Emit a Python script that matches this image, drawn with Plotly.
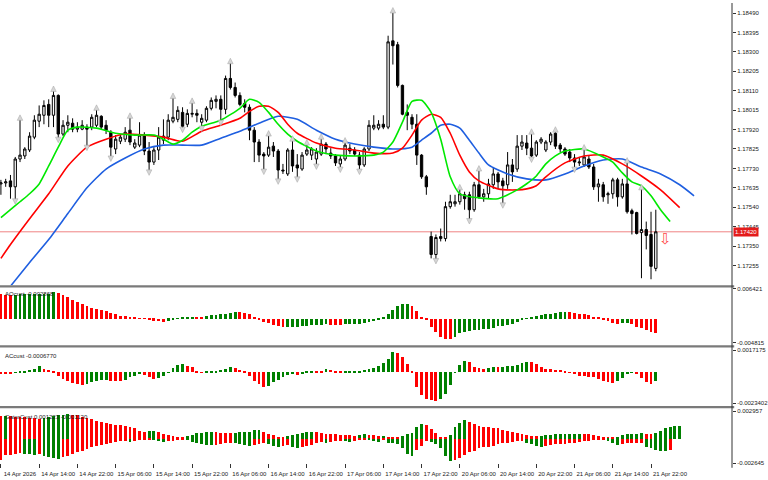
import plotly.graph_objects as go

# ---------------- data ----------------
bar_index = list(range(138))

open_ = [1.17654,1.17659,1.17669,1.17640,1.17776,1.17791,1.17820,1.17883,1.17961,1.17990,
1.18043,1.17990,1.18087,1.17898,1.17941,1.17951,1.17922,1.17922,1.17932,1.17932,
1.17941,1.17985,1.17941,1.17907,1.17825,1.17863,1.17873,1.17917,1.17834,1.17844,
1.17893,1.17815,1.17761,1.17820,1.17868,1.17883,1.17961,1.17970,1.18004,1.17946,
1.17995,1.17999,1.17956,1.17966,1.18024,1.18058,1.18068,1.18019,1.18170,1.18126,
1.18087,1.18048,1.18029,1.17917,1.17859,1.17800,1.17795,1.17839,1.17815,1.17722,
1.17703,1.17820,1.17747,1.17727,1.17800,1.17795,1.17776,1.17800,1.17849,1.17805,
1.17791,1.17752,1.17776,1.17829,1.17820,1.17795,1.17747,1.17825,1.17927,1.17927,
1.17946,1.17932,1.18354,1.18335,1.18136,1.18004,1.17980,1.17946,1.17795,1.17689,
1.17397,1.17309,1.17387,1.17387,1.17543,1.17557,1.17567,1.17601,1.17601,1.17528,
1.17650,1.17591,1.17606,1.17650,1.17703,1.17669,1.17650,1.17747,1.17727,1.17839,
1.17854,1.17829,1.17795,1.17859,1.17820,1.17859,1.17902,1.17844,1.17825,1.17810,
1.17781,1.17757,1.17747,1.17776,1.17737,1.17640,1.17650,1.17601,1.17606,1.17674,
1.17591,1.17654,1.17523,1.17514,1.17416,1.17431,1.17407,1.17241]

high_ = [1.17674,1.17679,1.17698,1.17786,1.17970,1.17834,1.17907,1.17990,1.18038,1.18063,
1.18068,1.18111,1.18092,1.17966,1.17990,1.17975,1.17956,1.17966,1.17946,1.17995,
1.18019,1.17990,1.17966,1.17917,1.17893,1.17898,1.17932,1.17980,1.17873,1.17956,
1.17907,1.17859,1.17834,1.17932,1.17970,1.17995,1.18077,1.18034,1.18029,1.18019,
1.18053,1.18019,1.17995,1.18034,1.18077,1.18087,1.18087,1.18184,1.18247,1.18150,
1.18102,1.18068,1.18043,1.17932,1.17873,1.17810,1.17893,1.17859,1.17825,1.17752,
1.17829,1.17868,1.17800,1.17810,1.17849,1.17834,1.17829,1.17878,1.17859,1.17829,
1.17800,1.17795,1.17859,1.17849,1.17834,1.17810,1.17834,1.17966,1.17990,1.17966,
1.17990,1.18379,1.18495,1.18349,1.18140,1.18043,1.17995,1.17995,1.17800,1.17698,
1.17421,1.17407,1.17436,1.17567,1.17601,1.17601,1.17630,1.17616,1.17616,1.17664,
1.17722,1.17630,1.17679,1.17737,1.17713,1.17684,1.17810,1.17776,1.17893,1.17893,
1.17893,1.17902,1.17868,1.17883,1.17868,1.17907,1.17912,1.17854,1.17834,1.17825,
1.17800,1.17786,1.17825,1.17795,1.17752,1.17679,1.17664,1.17616,1.17684,1.17684,
1.17679,1.17761,1.17533,1.17518,1.17630,1.17470,1.17518,1.17528]

low_ = [1.17601,1.17640,1.17582,1.17577,1.17761,1.17776,1.17810,1.17873,1.17932,1.17946,
1.17932,1.17932,1.17878,1.17888,1.17907,1.17907,1.17907,1.17917,1.17839,1.17917,
1.17932,1.17922,1.17898,1.17786,1.17800,1.17849,1.17859,1.17844,1.17825,1.17834,
1.17795,1.17718,1.17747,1.17771,1.17849,1.17868,1.17951,1.17956,1.17927,1.17932,
1.17980,1.17956,1.17932,1.17956,1.18014,1.18024,1.17961,1.17995,1.18116,1.18077,
1.18034,1.18004,1.17868,1.17761,1.17761,1.17722,1.17786,1.17786,1.17674,1.17703,
1.17693,1.17713,1.17684,1.17718,1.17791,1.17771,1.17747,1.17791,1.17800,1.17776,
1.17742,1.17732,1.17766,1.17800,1.17791,1.17722,1.17737,1.17815,1.17917,1.17917,
1.17922,1.17922,1.18238,1.18126,1.17990,1.17917,1.17922,1.17747,1.17679,1.17601,
1.17290,1.17285,1.17373,1.17373,1.17533,1.17543,1.17553,1.17528,1.17480,1.17518,
1.17582,1.17567,1.17582,1.17630,1.17630,1.17557,1.17630,1.17664,1.17713,1.17820,
1.17795,1.17781,1.17786,1.17849,1.17810,1.17844,1.17825,1.17810,1.17791,1.17761,
1.17732,1.17742,1.17737,1.17727,1.17625,1.17567,1.17567,1.17557,1.17582,1.17543,
1.17582,1.17509,1.17407,1.17407,1.17193,1.17334,1.17188,1.17227]

close_ = [1.17659,1.17664,1.17640,1.17776,1.17795,1.17825,1.17888,1.17966,1.17995,1.18038,
1.17990,1.18087,1.17898,1.17941,1.17956,1.17922,1.17932,1.17941,1.17922,1.17980,
1.17990,1.17932,1.17917,1.17834,1.17873,1.17883,1.17907,1.17859,1.17854,1.17893,
1.17815,1.17761,1.17820,1.17883,1.17888,1.17966,1.17980,1.18014,1.17936,1.17999,
1.17999,1.17990,1.17975,1.18024,1.18063,1.18068,1.18019,1.18170,1.18126,1.18087,
1.18043,1.18029,1.17917,1.17859,1.17795,1.17791,1.17834,1.17815,1.17722,1.17718,
1.17820,1.17742,1.17732,1.17795,1.17820,1.17825,1.17810,1.17849,1.17825,1.17791,
1.17757,1.17776,1.17844,1.17815,1.17800,1.17747,1.17825,1.17941,1.17941,1.17946,
1.17932,1.18349,1.18330,1.18136,1.17995,1.17990,1.17946,1.17795,1.17689,1.17640,
1.17309,1.17392,1.17397,1.17543,1.17567,1.17567,1.17606,1.17582,1.17528,1.17650,
1.17591,1.17606,1.17654,1.17703,1.17664,1.17645,1.17747,1.17713,1.17839,1.17859,
1.17829,1.17791,1.17859,1.17873,1.17859,1.17898,1.17839,1.17825,1.17800,1.17781,
1.17761,1.17761,1.17786,1.17737,1.17640,1.17654,1.17591,1.17606,1.17674,1.17591,
1.17654,1.17518,1.17509,1.17412,1.17431,1.17402,1.17251,1.17420]

# Alligator lines (bar index, value)
jaw_x = [2,6,10,14,18,22,26,30,34,38,42,46,50,54,58,62,66,70,74,78,82,86,88,90,92,94,96,98,100,102,106,110,114,118,122,126,130,134,138,142,145]
jaw_y = [1.17154,1.17270,1.17382,1.17509,1.17635,1.17727,1.17781,1.17825,1.17844,1.17844,1.17844,1.17878,1.17912,1.17951,1.17985,1.17970,1.17917,1.17873,1.17849,1.17834,1.17825,1.17834,1.17868,1.17902,1.17941,1.17946,1.17927,1.17868,1.17805,1.17747,1.17703,1.17679,1.17674,1.17703,1.17742,1.17771,1.17776,1.17737,1.17703,1.17650,1.17596]
teeth_x = [0,2,6,10,14,18,22,26,30,34,38,42,46,50,52,54,56,58,60,62,66,70,74,78,82,84,86,88,90,92,94,96,98,100,104,108,110,112,114,118,122,126,130,134,138,142]
teeth_y = [1.17290,1.17358,1.17484,1.17606,1.17742,1.17834,1.17873,1.17898,1.17893,1.17883,1.17863,1.17912,1.17941,1.17975,1.18009,1.18034,1.18034,1.18004,1.17946,1.17902,1.17854,1.17829,1.17820,1.17805,1.17805,1.17829,1.17893,1.17966,1.17995,1.17980,1.17902,1.17795,1.17713,1.17669,1.17630,1.17625,1.17630,1.17645,1.17689,1.17757,1.17791,1.17795,1.17752,1.17693,1.17625,1.17538]
lips_x = [0,2,4,6,8,10,12,14,16,20,24,28,32,34,36,38,40,42,46,50,52,54,56,58,60,62,66,70,74,78,80,82,84,86,88,90,92,94,96,100,104,108,110,112,114,116,118,122,126,128,130,132,134,136,138,140]
lips_y = [1.17489,1.17528,1.17567,1.17606,1.17654,1.17742,1.17834,1.17917,1.17932,1.17927,1.17902,1.17893,1.17893,1.17873,1.17849,1.17868,1.17907,1.17936,1.17966,1.18024,1.18068,1.18053,1.18004,1.17946,1.17898,1.17863,1.17815,1.17795,1.17791,1.17795,1.17810,1.17859,1.17956,1.18058,1.18063,1.18004,1.17873,1.17689,1.17606,1.17586,1.17582,1.17625,1.17655,1.17693,1.17752,1.17791,1.17815,1.17825,1.17786,1.17761,1.17708,1.17664,1.17645,1.17596,1.17528,1.17470]

fractal_up_idx = [4,11,20,27,36,40,48,56,61,64,67,72,82,96,100,111,116,122,131,134]
fractal_down_idx = [3,12,18,23,31,38,42,46,55,58,62,66,71,75,91,98,105,111,120]

last_price = 1.17420
signal_bar = 139

ao = [0.00509,0.00507,0.00505,0.00506,0.00508,0.00510,0.00512,0.00514,0.00516,0.00519,
0.00523,0.00560,0.00537,0.00488,0.00454,0.00399,0.00351,0.00303,0.00261,0.00234,
0.00206,0.00179,0.00158,0.00131,0.00096,0.00069,0.00055,0.00041,0.00028,0.00014,
0.00007,-0.00014,-0.00041,-0.00048,-0.00055,-0.00041,-0.00014,0.00014,0.00028,0.00041,
0.00048,0.00046,0.00045,0.00062,0.00076,0.00083,0.00096,0.00110,0.00131,0.00144,
0.00138,0.00131,0.00110,0.00041,-0.00003,-0.00055,-0.00083,-0.00117,-0.00144,-0.00175,
-0.00172,-0.00168,-0.00160,-0.00150,-0.00140,-0.00130,-0.00122,-0.00117,-0.00115,-0.00117,
-0.00118,-0.00119,-0.00115,-0.00110,-0.00103,-0.00096,-0.00083,-0.00070,-0.00045,-0.00028,
0.00028,0.00110,0.00193,0.00261,0.00303,0.00316,0.00261,0.00165,0.00041,-0.00021,
-0.00165,-0.00282,-0.00385,-0.00413,-0.00427,-0.00372,-0.00303,-0.00268,-0.00255,-0.00241,
-0.00227,-0.00213,-0.00200,-0.00179,-0.00158,-0.00138,-0.00117,-0.00096,-0.00062,-0.00028,
0.00007,0.00041,0.00069,0.00089,0.00103,0.00110,0.00124,0.00144,0.00151,0.00144,
0.00131,0.00110,0.00096,0.00076,0.00041,0.00021,-0.00007,-0.00041,-0.00076,-0.00096,
-0.00094,-0.00092,-0.00100,-0.00165,-0.00186,-0.00234,-0.00268,-0.002868]

ac = [-0.00005,-0.00008,-0.00013,-0.00003,0.00009,0.00014,0.00020,0.00027,0.00050,0.00027,
0.00020,0.00007,-0.00024,-0.00049,-0.00069,-0.00082,-0.00092,-0.00094,-0.00087,-0.00074,
-0.00062,-0.00056,-0.00054,-0.00062,-0.00067,-0.00069,-0.00056,-0.00036,-0.00024,-0.00011,
-0.00016,-0.00036,-0.00049,-0.00041,-0.00029,-0.00001,0.00035,0.00057,0.00065,0.00052,
0.00040,0.00009,-0.00001,0.00004,0.00009,0.00014,0.00020,0.00027,0.00040,0.00032,
0.00020,0.00004,-0.00024,-0.00062,-0.00092,-0.00112,-0.00100,-0.00074,-0.00056,-0.00036,
-0.00016,-0.00006,-0.00016,-0.00008,0.00007,0.00014,0.00012,0.00011,0.00027,0.00020,
0.00009,0.00004,0.00005,0.00009,0.00012,0.00014,0.00022,0.00027,0.00035,0.00047,
0.00070,0.00103,0.00159,0.00151,0.00121,0.00065,0.00009,-0.00112,-0.00176,-0.00201,
-0.00213,-0.00219,-0.00201,-0.00163,-0.00094,-0.00003,0.00060,0.00090,0.00078,0.00045,
0.00035,0.00027,0.00035,0.00045,0.00042,0.00045,0.00047,0.00050,0.00060,0.00070,
0.00080,0.00078,0.00065,0.00040,0.00027,0.00025,0.00022,0.00020,0.00009,0.00002,
-0.00011,-0.00024,-0.00029,-0.00031,-0.00036,-0.00049,-0.00062,-0.00074,-0.00079,-0.00062,
-0.00041,-0.00011,-0.00001,-0.00011,-0.00041,-0.00074,-0.00087,-0.000677]

gator_up = [0.00241,0.00245,0.00238,0.00234,0.00231,0.00227,0.00224,0.00220,0.00213,0.00224,
0.00234,0.00241,0.00249,0.00256,0.00259,0.00256,0.00249,0.00234,0.00220,0.00206,
0.00192,0.00181,0.00170,0.00156,0.00149,0.00146,0.00138,0.00128,0.00110,0.00085,
0.00067,0.00078,0.00082,0.00071,0.00050,0.00036,0.00025,0.00018,0.00014,0.00028,
0.00043,0.00057,0.00064,0.00067,0.00071,0.00067,0.00064,0.00060,0.00057,0.00064,
0.00067,0.00071,0.00075,0.00092,0.00096,0.00075,0.00050,0.00036,0.00021,0.00014,
0.00032,0.00043,0.00053,0.00060,0.00067,0.00075,0.00067,0.00060,0.00053,0.00050,
0.00046,0.00043,0.00039,0.00036,0.00032,0.00036,0.00046,0.00039,0.00036,0.00025,
0.00028,0.00021,0.00014,0.00011,0.00028,0.00050,0.00064,0.00128,0.00156,0.00142,
0.00099,0.00057,0.00021,0.00011,0.00039,0.00128,0.00163,0.00199,0.00181,0.00156,
0.00138,0.00128,0.00121,0.00117,0.00114,0.00092,0.00082,0.00075,0.00064,0.00050,
0.00039,0.00032,0.00028,0.00032,0.00039,0.00043,0.00046,0.00048,0.00050,0.00051,
0.00053,0.00054,0.00050,0.00046,0.00039,0.00032,0.00021,0.00014,0.00007,0.00021,
0.00039,0.00050,0.00051,0.00053,0.00055,0.00053,0.00050,0.00064,0.00085,0.00110,
0.00128,0.00135,0.00138]

gator_down = [-0.00227,-0.00181,-0.00174,-0.00163,-0.00156,-0.00163,-0.00170,-0.00174,-0.00167,-0.00185,
-0.00199,-0.00209,-0.00217,-0.00202,-0.00188,-0.00170,-0.00149,-0.00128,-0.00110,-0.00092,
-0.00078,-0.00067,-0.00057,-0.00046,-0.00036,-0.00028,-0.00025,-0.00032,-0.00021,-0.00014,
-0.00011,-0.00007,-0.00018,-0.00025,-0.00036,-0.00028,-0.00021,-0.00014,-0.00011,-0.00018,
-0.00032,-0.00050,-0.00060,-0.00067,-0.00071,-0.00067,-0.00057,-0.00050,-0.00046,-0.00050,
-0.00057,-0.00064,-0.00075,-0.00067,-0.00057,-0.00043,-0.00057,-0.00075,-0.00085,-0.00078,
-0.00067,-0.00085,-0.00096,-0.00092,-0.00078,-0.00064,-0.00050,-0.00036,-0.00043,-0.00032,
-0.00025,-0.00021,-0.00028,-0.00036,-0.00025,-0.00018,-0.00014,-0.00018,-0.00025,-0.00032,
-0.00014,-0.00043,-0.00050,-0.00057,-0.00103,-0.00163,-0.00192,-0.00121,-0.00078,-0.00028,
-0.00039,-0.00057,-0.00103,-0.00192,-0.00245,-0.00227,-0.00209,-0.00174,-0.00149,-0.00128,
-0.00103,-0.00092,-0.00085,-0.00078,-0.00060,-0.00050,-0.00043,-0.00032,-0.00025,-0.00021,
-0.00043,-0.00057,-0.00075,-0.00085,-0.00078,-0.00067,-0.00062,-0.00060,-0.00057,-0.00050,
-0.00043,-0.00032,-0.00025,-0.00021,-0.00018,-0.00014,-0.00012,-0.00021,-0.00050,-0.00067,
-0.00057,-0.00050,-0.00048,-0.00046,-0.00043,-0.00085,-0.00103,-0.00121,-0.00128,-0.00131,
-0.00124]

time_tick_idx = [0,8,16,24,32,40,48,56,64,72,80,88,96,104,112,120,128,136]
time_tick_text = ["14 Apr 2026","14 Apr 14:00","14 Apr 22:00","15 Apr 06:00","15 Apr 14:00",
                  "15 Apr 22:00","16 Apr 06:00","16 Apr 14:00","16 Apr 22:00","17 Apr 06:00",
                  "17 Apr 14:00","17 Apr 22:00","20 Apr 06:00","20 Apr 14:00","20 Apr 22:00",
                  "21 Apr 06:00","21 Apr 14:00","21 Apr 22:00"]
price_ticks = [1.18490,1.18395,1.18300,1.18205,1.18110,1.18015,1.17920,1.17825,
               1.17730,1.17635,1.17540,1.17445,1.17350,1.17255]
ao_scale = [-0.004815, 0.006421]
ac_scale = [-0.0023402, 0.0017175]
gator_scale = [-0.002645, 0.002957]
ao_label = "AOcust -0.002868"
ac_label = "ACcust -0.0006770"
gator_label = "GatorCust 0.001223 -0.001120"

# ---------------- styling ----------------
FONT = "Liberation Sans, Arial, sans-serif"
GREEN = "#008000"
RED = "#ff0000"


def hist_colors(vals):
    out = []
    for i, v in enumerate(vals):
        if i == 0:
            out.append(RED)
        else:
            out.append(GREEN if v > vals[i - 1] else RED)
    return out


def gator_down_colors(vals):
    out = []
    for i, v in enumerate(vals):
        if i == 0:
            out.append(RED)
        else:
            out.append(GREEN if abs(v) > abs(vals[i - 1]) else RED)
    return out


fig = go.Figure()

fig.add_trace(go.Candlestick(
    x=bar_index, open=open_, high=high_, low=low_, close=close_,
    xaxis="x", yaxis="y",
    increasing=dict(line=dict(color="black", width=1), fillcolor="white"),
    decreasing=dict(line=dict(color="black", width=1), fillcolor="black"),
    whiskerwidth=0, showlegend=False, hoverinfo="skip"))

for xs, ys, col in [(jaw_x, jaw_y, "#1f5fe0"), (teeth_x, teeth_y, "#ff0000"), (lips_x, lips_y, "#00e800")]:
    fig.add_trace(go.Scatter(x=xs, y=ys, mode="lines", xaxis="x", yaxis="y",
                             line=dict(color=col, width=1.6, shape="spline", smoothing=0.6),
                             showlegend=False, hoverinfo="skip"))

fig.add_trace(go.Scatter(
    x=fractal_up_idx, y=[high_[i] + 0.00022 for i in fractal_up_idx], mode="markers",
    xaxis="x", yaxis="y",
    marker=dict(symbol="arrow-up", size=5.5, color="#d6d6d6", line=dict(color="#a2a2a2", width=0.5)),
    showlegend=False, hoverinfo="skip"))
fig.add_trace(go.Scatter(
    x=fractal_down_idx, y=[low_[i] - 0.00022 for i in fractal_down_idx], mode="markers",
    xaxis="x", yaxis="y",
    marker=dict(symbol="arrow-down", size=5.5, color="#d6d6d6", line=dict(color="#a2a2a2", width=0.5)),
    showlegend=False, hoverinfo="skip"))

fig.add_trace(go.Bar(x=bar_index, y=ao, marker=dict(color=hist_colors(ao), line=dict(width=0)),
                     width=0.6, xaxis="x", yaxis="y2", showlegend=False, hoverinfo="skip"))
fig.add_trace(go.Bar(x=bar_index, y=ac, marker=dict(color=hist_colors(ac), line=dict(width=0)),
                     width=0.6, xaxis="x", yaxis="y3", showlegend=False, hoverinfo="skip"))
fig.add_trace(go.Bar(x=list(range(len(gator_up))), y=gator_up,
                     marker=dict(color=hist_colors(gator_up), line=dict(width=0)),
                     width=0.6, xaxis="x", yaxis="y4", showlegend=False, hoverinfo="skip"))
fig.add_trace(go.Bar(x=list(range(len(gator_down))), y=gator_down,
                     marker=dict(color=gator_down_colors(gator_down), line=dict(width=0)),
                     width=0.6, xaxis="x", yaxis="y4", showlegend=False, hoverinfo="skip"))

# pane geometry (paper fractions)
PRICE_DOM = [0.38925, 1.0]
AO_DOM = [0.26516, 0.38215]
AC_DOM = [0.13398, 0.24882]
GATOR_DOM = [0.003656, 0.116774]

tickfont = dict(family=FONT, size=6, color="#1a1a1a")
common_y = dict(side="right", showgrid=False, zeroline=False, showline=False,
                ticks="outside", ticklen=3, tickcolor="#333", tickwidth=1,
                tickfont=tickfont, fixedrange=True)

fig.update_layout(
    width=768, height=480,
    margin=dict(l=0, r=33, t=0, b=15),
    paper_bgcolor="white", plot_bgcolor="white",
    barmode="overlay", bargap=0,
    font=dict(family=FONT, size=6, color="#1a1a1a"),
    showlegend=False,
    xaxis=dict(domain=[0, 1], range=[-0.19, 152.94], anchor="y4",
               showgrid=False, zeroline=False, showline=False,
               tickmode="array", tickvals=time_tick_idx, ticktext=time_tick_text,
               ticks="outside", ticklen=4, tickcolor="#333", tickfont=tickfont,
               ticklabelshift=19, rangeslider=dict(visible=False), fixedrange=True),
    yaxis=dict(domain=PRICE_DOM, range=[1.17159, 1.18539], anchor="x",
               tickmode="array", tickvals=price_ticks,
               ticktext=["%.5f" % v for v in price_ticks], **common_y),
    yaxis2=dict(domain=AO_DOM, range=[ao_scale[0] - 1e-6, ao_scale[1] + 1e-6], anchor="x",
                tickmode="array", tickvals=ao_scale, ticktext=["-0.004815", "0.006421"], **common_y),
    yaxis3=dict(domain=AC_DOM, range=[ac_scale[0] - 1e-7, ac_scale[1] + 1e-7], anchor="x",
                tickmode="array", tickvals=ac_scale, ticktext=["-0.0023402", "0.0017175"], **common_y),
    yaxis4=dict(domain=GATOR_DOM, range=[gator_scale[0] - 1e-6, gator_scale[1] + 1e-6], anchor="x",
                tickmode="array", tickvals=gator_scale, ticktext=["-0.002645", "0.002957"], **common_y),
)

shapes = []
# current price line
shapes.append(dict(type="line", xref="paper", yref="y", x0=0, x1=1, y0=last_price, y1=last_price,
                   line=dict(color="rgba(235,90,90,0.75)", width=1), layer="below"))
# pane separators
for yp in [0.38645, 0.25656, 0.12538]:
    shapes.append(dict(type="line", xref="paper", yref="paper", x0=0, x1=1.003, y0=yp, y1=yp,
                       line=dict(color="#7a7a7a", width=2.2)))
# right border of chart
shapes.append(dict(type="line", xref="paper", yref="paper", x0=1, x1=1, y0=-0.006, y1=1,
                   line=dict(color="#333", width=1)))
fig.update_layout(shapes=shapes)

annotations = [
    dict(xref="paper", yref="paper", x=0, y=AO_DOM[1], xanchor="left", yanchor="top",
         xshift=3, yshift=-1, text=ao_label, showarrow=False, font=dict(family=FONT, size=6, color="#1a1a1a")),
    dict(xref="paper", yref="paper", x=0, y=AC_DOM[1], xanchor="left", yanchor="top",
         xshift=3, yshift=-1, text=ac_label, showarrow=False, font=dict(family=FONT, size=6, color="#1a1a1a")),
    dict(xref="paper", yref="paper", x=0, y=GATOR_DOM[1], xanchor="left", yanchor="top",
         xshift=3, yshift=-1, text=gator_label, showarrow=False, font=dict(family=FONT, size=6, color="#1a1a1a")),
    dict(xref="paper", yref="y", x=1, y=last_price, xanchor="left", yanchor="middle", xshift=1,
         text="%.5f" % last_price, showarrow=False, bgcolor="#e41b1b", borderpad=1,
         font=dict(family=FONT, size=6, color="white")),
    dict(xref="x", yref="y", x=signal_bar, y=last_price - 0.00034, text="\u21e9", showarrow=False,
         font=dict(family="DejaVu Sans", size=15, color="#ff4a4a")),
]
fig.update_layout(annotations=annotations)

fig.write_html("out.html")
